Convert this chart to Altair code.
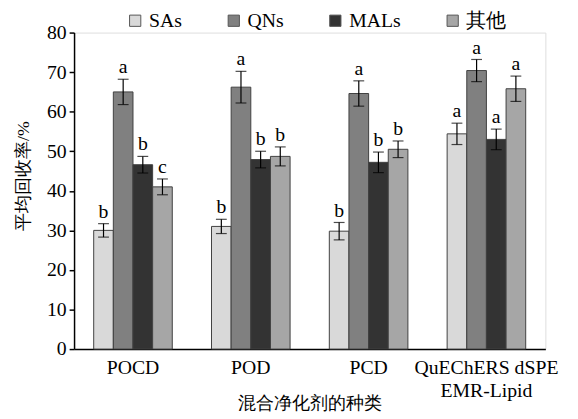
import altair as alt
import pandas as pd

groups = ["POCD", "POD", "PCD", "QuEChERS dSPE EMR-Lipid"]
series = ["SAs", "QNs", "MALs", "其他"]

sas = [30.0, 31.0, 29.8, 54.4]
qns = [65.0, 66.2, 64.6, 70.4]
mals = [46.6, 47.9, 47.2, 53.0]
other = [41.0, 48.7, 50.5, 65.8]

sas_err = [1.7, 1.8, 2.2, 2.7]
qns_err = [3.2, 4.0, 3.2, 2.8]
mals_err = [2.1, 2.1, 2.6, 2.6]
other_err = [2.0, 2.4, 2.1, 3.2]

sas_sig = ["b", "b", "b", "a"]
qns_sig = ["a", "a", "a", "a"]
mals_sig = ["b", "b", "b", "a"]
other_sig = ["c", "b", "b", "a"]

colors = ["#d9d9d9", "#808080", "#333333", "#a6a6a6"]

rows = []
for s, vals, errs, sigs in zip(series, [sas, qns, mals, other],
                               [sas_err, qns_err, mals_err, other_err],
                               [sas_sig, qns_sig, mals_sig, other_sig]):
    for g, v, e, l in zip(groups, vals, errs, sigs):
        rows.append({"group": g, "series": s, "value": v,
                     "lo": v - e, "hi": v + e, "sig": l})
df = pd.DataFrame(rows)

FONT = "Liberation Serif"

x = alt.X("group:N", sort=groups,
          scale=alt.Scale(paddingInner=0.333, paddingOuter=0.1667),
          axis=alt.Axis(title="混合净化剂的种类", labelAngle=0, ticks=False,
                        labelExpr="datum.value == 'QuEChERS dSPE EMR-Lipid' ? ['QuEChERS dSPE', 'EMR-Lipid'] : datum.label",
                        labelFontSize=20, labelPadding=9, titleFontSize=18,
                        titleFontWeight="normal", titleY=55, titleBaseline="middle",
                        labelLineHeight=23,
                        domainColor="black", domainWidth=1.5, labelColor="black",
                        titleColor="black", labelFont=FONT, titleFont=FONT))
xo = alt.XOffset("series:N", sort=series, scale=alt.Scale(paddingInner=0, paddingOuter=0))

base = alt.Chart(df)

bars = base.mark_bar(stroke="#404040", strokeWidth=1).encode(
    x=x, xOffset=xo,
    y=alt.Y("value:Q", scale=alt.Scale(domain=[0, 80]),
            axis=alt.Axis(title="平均回收率/%", values=list(range(0, 81, 10)),
                          grid=False, tickSize=5, tickColor="black", tickWidth=1.5,
                          domainColor="black", domainWidth=1.5, labelFontSize=20,
                          labelColor="black", titleColor="black", labelPadding=3,
                          titleFontSize=18, titleFontWeight="normal", titlePadding=14,
                          labelFont=FONT, titleFont=FONT, titleY=145)),
    color=alt.Color("series:N", sort=series,
                    scale=alt.Scale(domain=series, range=colors),
                    legend=alt.Legend(title=None, orient="none", direction="horizontal",
                                      legendX=52, legendY=-22, symbolType="square",
                                      symbolSize=130, symbolStrokeColor="#555555",
                                      symbolStrokeWidth=1, symbolOpacity=1,
                                      labelFontSize=20, labelFont=FONT, labelColor="black",
                                      columnPadding=42, labelOffset=4)),
)

rules = base.mark_rule(color="black", strokeWidth=1.2).encode(
    x=x, xOffset=xo, y="lo:Q", y2="hi:Q")
cap_hi = base.mark_tick(color="black", thickness=1.2, size=11).encode(
    x=x, xOffset=xo, y="hi:Q")
cap_lo = base.mark_tick(color="black", thickness=1.2, size=11).encode(
    x=x, xOffset=xo, y="lo:Q")
labels = base.mark_text(baseline="bottom", dy=-2, fontSize=20, font=FONT,
                        color="black").encode(
    x=x, xOffset=xo, y="hi:Q", text="sig:N")

chart = alt.layer(bars, rules, cap_hi, cap_lo, labels).properties(
    width=478, height=321,
    autosize=alt.AutoSizeParams(type="none"),
    padding={"left": 67, "top": 22, "right": 25, "bottom": 68},
).configure_view(stroke=None).configure(background="white")

chart.save("out.html", embed_options={"renderer": "svg", "actions": False})
